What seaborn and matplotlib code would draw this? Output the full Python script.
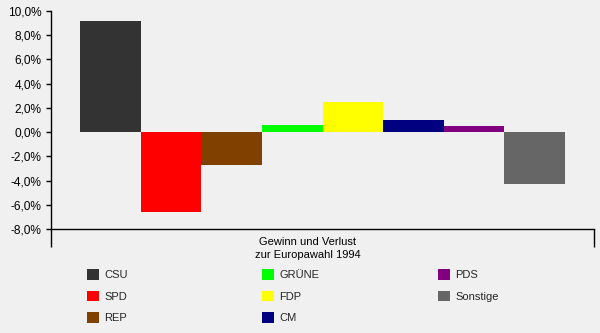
import matplotlib
matplotlib.use("Agg")
import matplotlib.pyplot as plt
from matplotlib.ticker import FuncFormatter, FixedLocator
from matplotlib.patches import Patch
import seaborn as sns
import pandas as pd

parties = ["CSU", "SPD", "REP", "GRÜNE", "FDP", "CM", "PDS", "Sonstige"]
changes = [9.2, -6.6, -2.7, 0.6, 2.45, 1.0, 0.5, -4.3]
colors = ["#333333", "#ff0000", "#804000", "#00ff00", "#ffff00", "#000080", "#800080", "#666666"]
category = "Gewinn und Verlust\nzur Europawahl 1994"
yticks = [-8, -6, -4, -2, 0, 2, 4, 6, 8, 10]

sns.set_style("white")
plt.rcParams["font.family"] = ["Liberation Sans", "DejaVu Sans"]
plt.rcParams["font.size"] = 8

bg = "#f0f0f0"
fig = plt.figure(figsize=(6, 3.33), dpi=100, facecolor=bg)
ax = fig.add_axes([51 / 600, 1 - 229 / 333, 543 / 600, 218 / 333])
ax.set_facecolor(bg)

df = pd.DataFrame({"cat": [category] * len(parties), "party": parties, "val": changes})
sns.barplot(data=df, x="cat", y="val", hue="party", hue_order=parties,
            palette=dict(zip(parties, colors)), width=0.892, dodge=True,
            saturation=1, errorbar=None, legend=False, ax=ax, linewidth=0)

ax.set_xlim(-0.5, 0.5)
ax.set_ylim(-8, 10)
ax.yaxis.set_major_locator(FixedLocator(yticks))
ax.yaxis.set_major_formatter(FuncFormatter(lambda v, p: f"{v:.1f}%".replace(".", ",")))
ax.tick_params(axis="y", length=3.6, width=1, pad=3, colors="black", labelsize=8.6, left=True)

# category axis: boundary ticks, label centred
ax.xaxis.set_major_locator(FixedLocator([-0.5, 0.5]))
ax.set_xticklabels(["", ""])
ax.tick_params(axis="x", which="major", length=13, width=1, direction="out", bottom=True, color="black")
ax.xaxis.set_minor_locator(FixedLocator([-0.027]))
ax.xaxis.set_minor_formatter(FuncFormatter(lambda v, p: category))
ax.tick_params(axis="x", which="minor", length=0, pad=6, labelsize=8, labelcolor="black")
for t in ax.xaxis.get_minorticklabels():
    t.set_linespacing(1.3)
ax.set_xlabel("")
ax.set_ylabel("")

for s in ["top", "right"]:
    ax.spines[s].set_visible(False)
for s in ["left", "bottom"]:
    ax.spines[s].set_color("black")
    ax.spines[s].set_linewidth(1)

handles = [Patch(facecolor=c, edgecolor="none") for c in colors]
groups = [(0, 3, 87), (3, 6, 262), (6, 8, 438)]
for a, b, xpx in groups:
    fig.legend(handles[a:b], parties[a:b], loc="upper left",
               bbox_to_anchor=(xpx / 600, 1 - 269 / 333), frameon=False,
               handlelength=1.1, handleheight=1.1, handletextpad=0.45,
               labelspacing=0.95, borderpad=0, borderaxespad=0, fontsize=8)

fig.savefig("out.png", dpi=100, facecolor=bg)
